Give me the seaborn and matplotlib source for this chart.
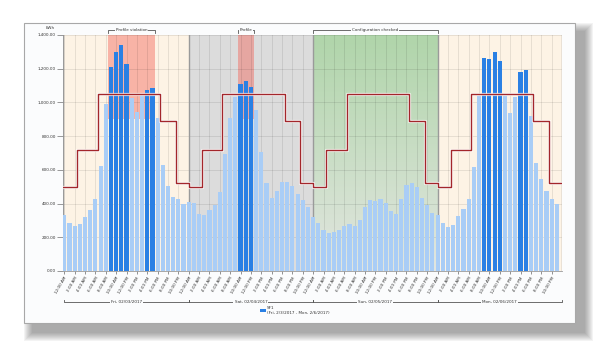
import numpy as np
import pandas as pd
import matplotlib
matplotlib.use("Agg")
import matplotlib.pyplot as plt
import matplotlib.patheffects as pe
from matplotlib.patches import Rectangle, Patch
import seaborn as sns

# --- Data (hourly kWh, Fri..Mon) ---
DAYS = ["Fri, 02/03/2017", "Sat, 02/04/2017", "Sun, 02/05/2017", "Mon, 02/06/2017"]
fri_kwh = [330, 284, 268, 278, 322, 364, 430, 620, 992, 1208, 1300, 1340,
           1230, 1028, 944, 1042, 1072, 1084, 910, 630, 504, 440, 426, 400]
sat_kwh = [408, 404, 340, 334, 362, 390, 470, 694, 908, 1034, 1108, 1128,
           1092, 954, 704, 520, 434, 472, 530, 530, 502, 456, 424, 378]
sun_kwh = [322, 286, 244, 224, 230, 242, 268, 280, 268, 300, 382, 422,
           414, 426, 406, 358, 340, 430, 508, 520, 498, 436, 390, 344]
mon_kwh = [330, 284, 262, 270, 326, 368, 428, 618, 1038, 1266, 1260, 1298,
           1248, 1038, 938, 1034, 1178, 1194, 922, 642, 544, 476, 426, 400]

HOUR_LABELS = ["12:00 AM", "2:00 AM", "4:00 AM", "6:00 AM", "8:00 AM", "10:00 AM",
               "12:00 PM", "2:00 PM", "4:00 PM", "6:00 PM", "8:00 PM", "10:00 PM"]

# load profile: level starts at each break (hour of day)
PROFILE_BREAKS = [0, 2.5, 6.5, 18.5, 21.5]
PROFILE_LEVELS = [500, 720, 1050, 890, 520]

Y_TICKS = [0, 200, 400, 600, 800, 1000, 1200, 1400]
VIOLATIONS = [(8.5, 17.5), (33.5, 36.5)]
VIOLATION_FLOOR = 900
NOTES = [(8.5, 17.5, "Profile violation"), (33.5, 36.5, "Profile"),
         (48, 72, "Configuration checked")]

LIGHT = "#a9cdf6"
DARK = "#2a80e4"
PEACH = "#fdf3e5"
GRAY = "#dcdcdc"
FRAME_BG = "#fbfcfd"

plt.rcParams["font.family"] = ["DejaVu Sans"]

# --- Build frame ---
kwh = fri_kwh + sat_kwh + sun_kwh + mon_kwh
slots = np.arange(len(kwh))
hour = slots % 24
prof = np.array(PROFILE_LEVELS)[np.searchsorted(PROFILE_BREAKS, hour, side="right") - 1]
df = pd.DataFrame({"slot": slots, "kwh": kwh,
                   "state": np.where(np.array(kwh) > prof, "over", "normal")})

W, H = 600, 350
fig = plt.figure(figsize=(6, 3.5), dpi=100)


def px(x, y, w, h):
    return (x / W, 1 - (y + h) / H, w / W, h / H)


# soft drop shadow (bottom-right) + card
fx, fy, fw, fh = 24, 23, 551, 300
for k in range(9, 0, -1):
    b = px(fx + 9 - k, fy + 9 - k, fw + 2 * k, fh + 2 * k)
    fig.add_artist(Rectangle(b[:2], b[2], b[3], transform=fig.transFigure,
                             facecolor="#404040", edgecolor="none", alpha=0.06, zorder=-3))
b = px(fx, fy, fw, fh)
fig.add_artist(Rectangle(b[:2], b[2], b[3], transform=fig.transFigure,
                         facecolor=FRAME_BG, edgecolor="#a8a8a8", lw=0.8, zorder=-1))

ax = fig.add_axes(px(63, 35, 499, 236))
ax.set_facecolor(FRAME_BG)
XMIN, XMAX = -0.25, 96

# day bands
for d, col in enumerate([PEACH, GRAY, None, PEACH]):
    x0, x1 = max(24 * d, XMIN), 24 * (d + 1)
    if col is None:
        top = np.array([176, 213, 170]) / 255
        bot = np.array([226, 230, 224]) / 255
        t = np.linspace(0, 1, 200)[:, None]
        grad = bot + (top - bot) * t
        ax.imshow(grad[:, None, :].repeat(2, axis=1), extent=[x0, x1, 0, 1400],
                  origin="lower", aspect="auto", zorder=0)
    else:
        ax.axvspan(x0, x1, color=col, zorder=0, lw=0)

for x0, x1 in VIOLATIONS:
    ax.fill_between([x0, x1], VIOLATION_FLOOR, 1400, color="#f4665a", alpha=0.45,
                    zorder=0.3, lw=0)

for x in range(0, 96, 2):
    ax.axvline(x, color="black", alpha=0.09, lw=0.7, zorder=0.5)
for y in Y_TICKS[1:]:
    ax.axhline(y, color="black", alpha=0.09, lw=0.7, zorder=0.5)
for x in [XMIN, 24, 48, 72, XMAX]:
    ax.axvline(x, color="#9a9a9a", lw=1.0, zorder=0.6)

sns.barplot(data=df, x="slot", y="kwh", hue="state", hue_order=["normal", "over"],
            palette={"normal": LIGHT, "over": DARK}, dodge=False, width=0.8,
            saturation=1, legend=False, ax=ax, zorder=2)

# profile step line
xs, ys = [], []
for d in range(4):
    for b_, lvl in zip(PROFILE_BREAKS, PROFILE_LEVELS):
        xs.append(24 * d + b_)
        ys.append(lvl)
xs[0] = XMIN
xs.append(XMAX)
ys.append(PROFILE_LEVELS[-1])
ax.step(xs, ys, where="post", color="#a3262b", lw=1.0, zorder=3,
        path_effects=[pe.withStroke(linewidth=2.3, foreground="white", alpha=0.8)])

ax.set_xlim(XMIN, XMAX)
ax.set_ylim(0, 1400)
ax.set_xlabel("")
ax.set_ylabel("")
ax.set_xticks(range(0, 96, 2))
ax.set_xticklabels(HOUR_LABELS * 4, rotation=60, ha="right", rotation_mode="anchor",
                   fontsize=3, color="#333333")
ax.set_yticks(Y_TICKS)
ax.set_yticklabels([f"{v:,.2f}" for v in Y_TICKS], fontsize=3, color="#333333")
ax.tick_params(axis="x", length=2, width=0.5, color="#666666", pad=1.5)
ax.tick_params(axis="y", length=4, width=0.6, color="#888888", pad=1)
for s in ["top", "right", "left"]:
    ax.spines[s].set_visible(False)
ax.spines["bottom"].set_color("#999999")
ax.spines["bottom"].set_linewidth(0.6)

ax.text(-0.025, 1.03, "kWh", transform=ax.transAxes, fontsize=3, color="#333333",
        ha="center", va="center")

# top annotation brackets
tr = ax.get_xaxis_transform()
for x0, x1, label in NOTES:
    ax.plot([x0, x0, x1, x1], [1.01, 1.021, 1.021, 1.01], transform=tr, color="#555555",
            lw=0.6, clip_on=False)
    ax.text((x0 + x1) / 2, 1.021, label, transform=tr, fontsize=3, color="#333333",
            ha="center", va="center",
            bbox=dict(facecolor=FRAME_BG, edgecolor="none", pad=0.6))

# day group brackets
for d, label in enumerate(DAYS):
    x0, x1 = 24 * d, 24 * (d + 1)
    ax.plot([x0, x0, x1, x1], [-0.121, -0.131, -0.131, -0.121], transform=tr,
            color="#555555", lw=0.6, clip_on=False)
    ax.text((x0 + x1) / 2, -0.131, label, transform=tr, fontsize=3, color="#333333",
            ha="center", va="center",
            bbox=dict(facecolor=FRAME_BG, edgecolor="none", pad=0.8))

fig.legend(handles=[Patch(facecolor=DARK)],
           labels=["SF1\n(Fri, 2/3/2017 - Mon, 2/6/2017)"],
           loc="upper left", bbox_to_anchor=(258 / W, 1 - 304 / H), frameon=False,
           fontsize=3, handlelength=1.3, handleheight=0.8, handletextpad=0.4,
           labelcolor="#333333", borderpad=0)

fig.savefig("out.png", dpi=100)
